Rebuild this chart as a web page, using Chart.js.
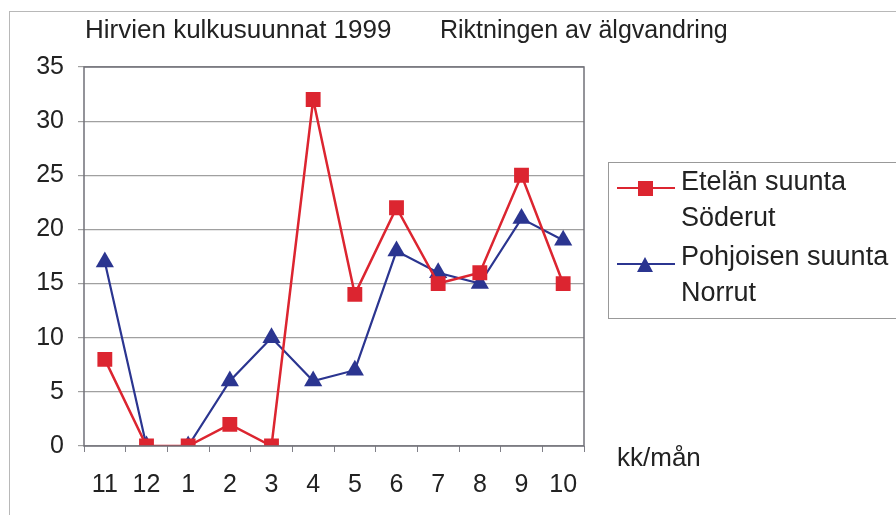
<!DOCTYPE html>
<html>
<head>
<meta charset="utf-8">
<script src="https://cdn.jsdelivr.net/npm/chart.js@4"></script>
<style>
  body{margin:0;background:#fff;}
  #wrap{width:896px;height:515px;position:relative;}
</style>
</head>
<body>
<div id="wrap"><canvas id="chart" width="896" height="515"></canvas></div>
<script>
const months = ["11","12","1","2","3","4","5","6","7","8","9","10"];
const southLabel = ["Etelän suunta", "Söderut"];
const northLabel = ["Pohjoisen suunta", "Norrut"];
const south = [8,0,0,2,0,32,14,22,15,16,25,15];
const north = [17,0,0,6,10,6,7,18,16,15,21,19];
const yTicks = [0,5,10,15,20,25,30,35];

const FONT = "'Liberation Sans', Arial, sans-serif";
const RED = "#dc2530";
const BLUE = "#2b3590";

// frame, plot border, titles and legend
const extras = {
    id: "extras",
    beforeDraw(c){
        let ctx = c.ctx;
        ctx.save();
        ctx.fillStyle = "#fff";
        ctx.fillRect(0,0,c.width,c.height);
        ctx.strokeStyle = "#b8b8b8";
        ctx.lineWidth = 1;
        ctx.strokeRect(9.5,11.5,890,510);
        ctx.restore();
    },
    afterDraw(c){
        let ctx = c.ctx;
        let a = c.chartArea;
        ctx.save();
        ctx.strokeStyle = "#707078";
        ctx.lineWidth = 1.5;
        ctx.strokeRect(a.left, a.top, a.right-a.left, a.bottom-a.top);

        ctx.fillStyle = "#222";
        ctx.textBaseline = "middle";
        ctx.textAlign = "left";
        ctx.font = "26px " + FONT;
        ctx.fillText("Hirvien kulkusuunnat 1999", 85, 31);
        ctx.font = "25px " + FONT;
        ctx.fillText("Riktningen av älgvandring", 440, 31);
        ctx.font = "26px " + FONT;
        ctx.fillText("kk/mån", 617, 459);

        // legend
        ctx.strokeStyle = "#999";
        ctx.lineWidth = 1;
        ctx.strokeRect(608.5,162.5,290,156);
        let items = c.data.datasets;
        let rows = [{t:183, l:188}, {t:258, l:264}];
        items.forEach((ds,i)=>{
            let r = rows[i];
            ctx.strokeStyle = ds.borderColor;
            ctx.lineWidth = 2;
            ctx.beginPath();
            ctx.moveTo(617,r.l);
            ctx.lineTo(675,r.l);
            ctx.stroke();
            ctx.fillStyle = ds.backgroundColor;
            if(ds.pointStyle === "rect"){
                ctx.fillRect(638,r.l-7,15,15);
            } else {
                ctx.beginPath();
                ctx.moveTo(645,r.l-7);
                ctx.lineTo(653,r.l+8);
                ctx.lineTo(637,r.l+8);
                ctx.closePath();
                ctx.fill();
            }
            ctx.fillStyle = "#222";
            ctx.font = "27px " + FONT;
            ds.legendLines.forEach((t,k)=>{
                ctx.fillText(t, 681, r.t + k*36);
            });
        });
        ctx.restore();
    }
};

new Chart(document.getElementById("chart"), {
    type: "line",
    data: {
        labels: months,
        datasets: [
            {
                label: southLabel.join(" "),
                legendLines: southLabel,
                data: south,
                borderColor: RED,
                backgroundColor: RED,
                borderWidth: 2.5,
                pointStyle: "rect",
                pointRadius: 10.5,
                pointBorderWidth: 0,
                tension: 0
            },
            {
                label: northLabel.join(" "),
                legendLines: northLabel,
                data: north,
                borderColor: BLUE,
                backgroundColor: BLUE,
                borderWidth: 2.2,
                pointStyle: "triangle",
                pointRadius: 10.5,
                pointBorderWidth: 0,
                tension: 0
            }
        ]
    },
    options: {
        responsive: false,
        animation: false,
        devicePixelRatio: 1,
        layout: { padding: { left: 10, top: 67, right: 312, bottom: 9 } },
        plugins: {
            legend: { display: false },
            tooltip: { enabled: false }
        },
        scales: {
            x: {
                offset: true,
                afterFit: s => { s.height = 60; },
                grid: {
                    offset: true,
                    drawOnChartArea: false,
                    drawTicks: true,
                    tickLength: 6,
                    color: "#808088"
                },
                border: { display: false },
                ticks: {
                    color: "#222",
                    padding: 18,
                    maxRotation: 0,
                    autoSkip: false,
                    font: { family: FONT, size: 25 }
                }
            },
            y: {
                min: 0,
                max: 35,
                afterFit: s => { s.width = 74; },
                afterBuildTicks: s => { s.ticks = yTicks.map(v => ({value: v})); },
                grid: {
                    color: "#a0a0a0",
                    lineWidth: 1.2,
                    tickLength: 6
                },
                border: { display: false },
                ticks: {
                    color: "#222",
                    padding: 14,
                    font: { family: FONT, size: 25 }
                }
            }
        }
    },
    plugins: [extras]
});
</script>
</body>
</html>
